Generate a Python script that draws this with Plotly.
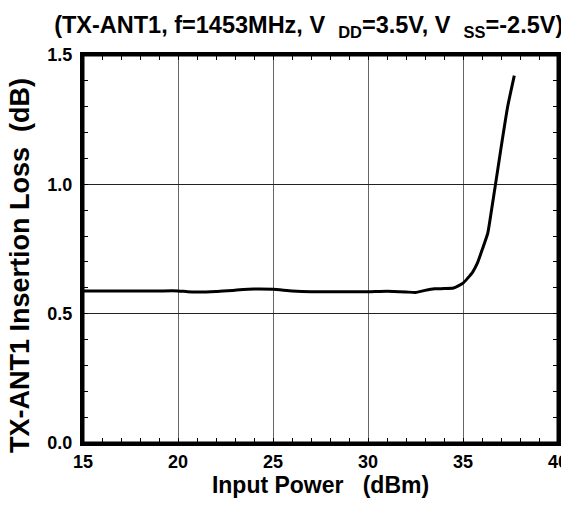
import plotly.graph_objects as go

# Data
power_dbm = [15, 16, 17, 18, 19, 20, 20.5, 21, 22, 23, 24, 25, 26, 27, 28, 29, 30, 31, 32, 32.5,
             33, 33.5, 34, 34.5, 35, 35.5, 35.75, 36, 36.3, 36.5, 36.7, 37, 37.35, 37.7]
loss_db = [0.588, 0.588, 0.588, 0.588, 0.588, 0.588, 0.585, 0.584, 0.586, 0.591, 0.595, 0.594,
           0.588, 0.585, 0.585, 0.585, 0.585, 0.587, 0.584, 0.582, 0.590, 0.596, 0.597, 0.599,
           0.618, 0.66, 0.694, 0.745, 0.81, 0.90, 0.995, 1.14, 1.30, 1.42]

x_ticks = [15, 20, 25, 30, 35, 40]
x_small_ticks = list(range(15, 41))
y_ticks = [0.0, 0.5, 1.0, 1.5]
y_tick_text = ["0.0", "0.5", "1.0", "1.5"]
y_small_ticks = [round(i * 0.1, 1) for i in range(0, 16)]

FONT = "Liberation Sans, Arial, sans-serif"
NB = "\u00a0"

fig = go.Figure()
fig.add_trace(go.Scatter(x=power_dbm, y=loss_db, mode="lines",
                         line=dict(color="black", width=3, shape="spline", smoothing=0.5),
                         showlegend=False, xaxis="x", yaxis="y"))
# invisible helper trace so the top/right tick axes are drawn
fig.add_trace(go.Scatter(x=[15], y=[0], mode="markers", marker=dict(opacity=0),
                         showlegend=False, hoverinfo="skip", xaxis="x2", yaxis="y2"))

title_text = f"<b>(TX-ANT1, f=1453MHz, V{NB}{NB}<sub>DD</sub>=3.5V, V{NB}{NB}<sub>SS</sub>=-2.5V)</b>"

fig.update_layout(
    width=561, height=500,
    margin=dict(l=75, r=8, t=47, b=65),
    paper_bgcolor="white", plot_bgcolor="white",
    font=dict(family=FONT, color="black"),
    title=dict(text=title_text,
               font=dict(size=23.5, family=FONT, color="black"),
               x=0.536, xanchor="center", y=0.966, yanchor="middle"),
    xaxis=dict(range=[15, 40], tickvals=x_ticks, ticktext=[f"<b>{v}</b>" for v in x_ticks],
               ticks="", ticklabeloverflow="allow", automargin=False,
               showgrid=True, gridcolor="#666", gridwidth=1, zeroline=False,
               showline=True, linecolor="black", linewidth=3, mirror=True,
               minor=dict(dtick=1, tick0=15, ticks="inside", ticklen=5, tickcolor="black", showgrid=False),
               tickfont=dict(size=18),
               title=dict(text=f"<b>Input Power{NB}{NB}{NB}(dBm)</b>", font=dict(size=23), standoff=6)),
    yaxis=dict(range=[0, 1.5], tickvals=y_ticks, ticktext=[f"<b>{t}</b>" for t in y_tick_text],
               ticks="outside", ticklen=4, tickcolor="white", tickwidth=1,
               showgrid=True, gridcolor="#222", gridwidth=1, zeroline=False,
               showline=True, linecolor="black", linewidth=3, mirror=True,
               minor=dict(dtick=0.1, tick0=0, ticks="inside", ticklen=5, tickcolor="black", showgrid=False),
               tickfont=dict(size=18)),
    xaxis2=dict(range=[15, 40], overlaying="x", side="top", anchor="y",
                tickvals=x_small_ticks, showticklabels=False,
                ticks="inside", ticklen=5, tickwidth=1, tickcolor="black",
                showgrid=False, zeroline=False, showline=False, automargin=False),
    yaxis2=dict(range=[0, 1.5], overlaying="y", side="right", anchor="x",
                tickvals=y_small_ticks, showticklabels=False,
                ticks="inside", ticklen=5, tickwidth=1, tickcolor="black",
                showgrid=False, zeroline=False, showline=False, automargin=False),
    annotations=[dict(text=f"<b>TX-ANT1 Insertion Loss{NB}{NB}(dB)</b>", textangle=-90,
                      xref="paper", yref="paper", x=0, y=0.5, xanchor="center", yanchor="middle",
                      xshift=-63, yshift=-17, showarrow=False, font=dict(size=27, color="black"))],
    shapes=[dict(type="rect", xref="x domain", yref="y domain", x0=0, x1=1, y0=0, y1=1,
                 line=dict(color="black", width=3), layer="above")],
)

fig.write_html("out.html")
